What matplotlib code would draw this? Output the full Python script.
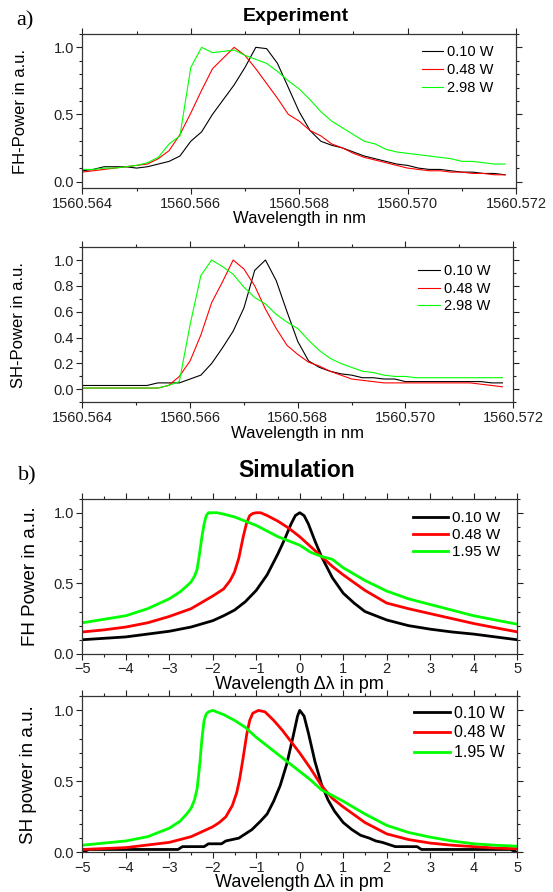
import matplotlib
matplotlib.use("Agg")
import matplotlib.pyplot as plt
from matplotlib.ticker import MultipleLocator

plt.rcParams['font.family'] = ['Liberation Sans', 'DejaVu Sans']

# ---- experiment: wavelength grid in nm (one point every 0.2 pm) ----
wl_exp = [1560.5640, 1560.5642, 1560.5644, 1560.5646, 1560.5648, 1560.5650,
          1560.5652, 1560.5654, 1560.5656, 1560.5658, 1560.5660, 1560.5662,
          1560.5664, 1560.5666, 1560.5668, 1560.5670, 1560.5672, 1560.5674,
          1560.5676, 1560.5678, 1560.5680, 1560.5682, 1560.5684, 1560.5686,
          1560.5688, 1560.5690, 1560.5692, 1560.5694, 1560.5696, 1560.5698,
          1560.5700, 1560.5702, 1560.5704, 1560.5706, 1560.5708, 1560.5710,
          1560.5712, 1560.5714, 1560.5716, 1560.5718]

fh_exp_010 = [0.08, 0.09, 0.11, 0.11, 0.11, 0.10, 0.11, 0.13, 0.15, 0.19,
              0.30, 0.37, 0.50, 0.61, 0.72, 0.85, 1.00, 0.99, 0.88, 0.70,
              0.52, 0.38, 0.30, 0.27, 0.25, 0.22, 0.19, 0.17, 0.15, 0.13,
              0.12, 0.10, 0.09, 0.09, 0.08, 0.07, 0.07, 0.06, 0.06, 0.05]
fh_exp_048 = [0.07, 0.08, 0.09, 0.10, 0.11, 0.12, 0.13, 0.17, 0.23, 0.35,
              0.51, 0.68, 0.84, 0.92, 1.00, 0.94, 0.84, 0.73, 0.62, 0.50,
              0.45, 0.38, 0.34, 0.28, 0.25, 0.21, 0.18, 0.16, 0.14, 0.12,
              0.10, 0.09, 0.08, 0.08, 0.07, 0.07, 0.06, 0.06, 0.05, 0.05]
fh_exp_298 = [0.09, 0.09, 0.10, 0.10, 0.11, 0.12, 0.14, 0.18, 0.28, 0.34,
              0.85, 1.00, 0.96, 0.97, 0.98, 0.94, 0.91, 0.88, 0.82, 0.75,
              0.69, 0.61, 0.52, 0.45, 0.40, 0.35, 0.30, 0.28, 0.24, 0.22,
              0.21, 0.20, 0.19, 0.18, 0.17, 0.15, 0.15, 0.14, 0.13, 0.13]

sh_exp_010 = [0.03, 0.03, 0.03, 0.03, 0.03, 0.03, 0.03, 0.05, 0.05, 0.05,
              0.08, 0.11, 0.20, 0.32, 0.45, 0.63, 0.92, 1.00, 0.84, 0.60,
              0.37, 0.22, 0.17, 0.14, 0.12, 0.11, 0.09, 0.09, 0.08, 0.08,
              0.06, 0.06, 0.06, 0.06, 0.06, 0.06, 0.06, 0.06, 0.05, 0.05]
sh_exp_048 = [0.01, 0.01, 0.01, 0.01, 0.01, 0.01, 0.01, 0.01, 0.03, 0.10,
              0.22, 0.42, 0.67, 0.83, 1.00, 0.93, 0.80, 0.62, 0.47, 0.34,
              0.27, 0.21, 0.18, 0.14, 0.11, 0.08, 0.07, 0.06, 0.05, 0.05,
              0.05, 0.05, 0.05, 0.05, 0.05, 0.05, 0.05, 0.04, 0.03, 0.02]
sh_exp_298 = [0.01, 0.01, 0.01, 0.01, 0.01, 0.01, 0.01, 0.01, 0.03, 0.06,
              0.50, 0.88, 1.00, 0.95, 0.89, 0.79, 0.71, 0.66, 0.58, 0.52,
              0.47, 0.38, 0.30, 0.24, 0.20, 0.17, 0.14, 0.13, 0.11, 0.10,
              0.10, 0.09, 0.09, 0.09, 0.09, 0.09, 0.09, 0.09, 0.09, 0.09]

exp_labels = ['0.10 W', '0.48 W', '2.98 W']

# ---- simulation: detuning in pm ----
fh_sim_010_x = [-5, -4.5, -4, -3.5, -3, -2.5, -2, -1.75, -1.5, -1.25, -1,
                -0.75, -0.5, -0.35, -0.2, -0.1, 0, 0.1, 0.2, 0.35, 0.5, 0.75,
                1, 1.25, 1.5, 2, 2.5, 3, 3.5, 4, 4.5, 5]
fh_sim_010_y = [0.10, 0.11, 0.12, 0.14, 0.16, 0.19, 0.235, 0.27, 0.31, 0.37,
                0.45, 0.56, 0.71, 0.81, 0.92, 0.98, 1.00, 0.98, 0.92, 0.80,
                0.69, 0.54, 0.43, 0.36, 0.30, 0.24, 0.20, 0.175, 0.155, 0.14,
                0.12, 0.10]
fh_sim_048_x = [-5, -4.5, -4, -3.5, -3, -2.5, -2, -1.75, -1.6, -1.5, -1.4,
                -1.3, -1.22, -1.15, -1.08, -1.0, -0.9, -0.75, -0.5, -0.25, 0,
                0.25, 0.5, 0.75, 1, 1.5, 2, 2.5, 3, 3.5, 4, 4.5, 5]
fh_sim_048_y = [0.155, 0.17, 0.19, 0.22, 0.265, 0.32, 0.41, 0.46, 0.52, 0.58,
                0.68, 0.83, 0.93, 0.98, 0.995, 1.00, 1.00, 0.98, 0.94, 0.89,
                0.83, 0.76, 0.69, 0.62, 0.56, 0.45, 0.36, 0.32, 0.285, 0.25,
                0.215, 0.185, 0.156]
fh_sim_195_x = [-5, -4.5, -4, -3.5, -3, -2.75, -2.6, -2.5, -2.42, -2.36, -2.3,
                -2.25, -2.2, -2.15, -2.1, -1.9, -1.75, -1.5, -1.25, -1, -0.75,
                -0.5, -0.25, 0, 0.25, 0.5, 0.75, 1, 1.5, 2, 2.5, 3, 3.5, 4,
                4.5, 5]
fh_sim_195_y = [0.22, 0.245, 0.27, 0.32, 0.39, 0.44, 0.48, 0.51, 0.55, 0.60,
                0.72, 0.83, 0.92, 0.98, 1.00, 1.00, 0.99, 0.97, 0.94, 0.91,
                0.87, 0.83, 0.80, 0.77, 0.72, 0.69, 0.67, 0.61, 0.52, 0.445,
                0.39, 0.35, 0.31, 0.27, 0.24, 0.21]

sh_sim_010_x = [-5.0, -4.85, -2.8, -2.7, -2.2, -2.1, -1.8, -1.7, -1.55, -1.4,
                -1.25, -1.1, -1.0, -0.9, -0.75, -0.6, -0.45, -0.3, -0.15, -0.05,
                0.0, 0.1, 0.2, 0.35, 0.5, 0.65, 0.8, 1.0, 1.2, 1.4, 1.6, 1.75,
                1.9, 2.0, 2.2, 2.7, 2.8, 4.85, 5.0]
sh_sim_010_y = [0.0, 0.02, 0.02, 0.04, 0.04, 0.06, 0.06, 0.08, 0.09, 0.10,
                0.13, 0.16, 0.19, 0.22, 0.27, 0.36, 0.47, 0.62, 0.82, 0.96,
                1.00, 0.96, 0.84, 0.64, 0.48, 0.37, 0.29, 0.21, 0.16, 0.12,
                0.10, 0.08, 0.07, 0.06, 0.04, 0.04, 0.02, 0.02, 0.0]
sh_sim_048_x = [-5, -4, -3, -2.5, -2, -1.85, -1.7, -1.55, -1.45, -1.38, -1.3,
                -1.22, -1.15, -1.08, -0.95, -0.8, -0.6, -0.4, -0.2, 0, 0.25,
                0.5, 0.75, 1, 1.5, 2, 2.5, 3, 3.5, 4, 4.5, 5]
sh_sim_048_y = [0.02, 0.033, 0.07, 0.11, 0.18, 0.21, 0.25, 0.33, 0.42, 0.52,
                0.67, 0.83, 0.93, 0.98, 1.00, 0.99, 0.93, 0.86, 0.78, 0.70,
                0.59, 0.47, 0.38, 0.32, 0.21, 0.13, 0.09, 0.065, 0.05, 0.04,
                0.03, 0.025]
sh_sim_195_x = [-5, -4.5, -4, -3.5, -3, -2.75, -2.6, -2.5, -2.42, -2.36, -2.3,
                -2.25, -2.2, -2.15, -2.1, -2.0, -1.75, -1.5, -1.25, -1, -0.75,
                -0.5, -0.25, 0, 0.25, 0.5, 0.75, 1, 1.5, 2, 2.5, 3, 3.5, 4,
                4.5, 5]
sh_sim_195_y = [0.05, 0.065, 0.08, 0.11, 0.17, 0.22, 0.27, 0.31, 0.37, 0.45,
                0.62, 0.80, 0.93, 0.975, 0.99, 1.00, 0.97, 0.93, 0.88, 0.81,
                0.75, 0.69, 0.63, 0.57, 0.51, 0.44, 0.40, 0.36, 0.27, 0.19,
                0.14, 0.107, 0.08, 0.06, 0.05, 0.043]

sim_labels = ['0.10 W', '0.48 W', '1.95 W']
colors = ['black', '#ff0000', '#00ff00']


def style_axes(ax, xmaj, xmin, ymaj, ymin, tsize):
    ax.xaxis.set_major_locator(MultipleLocator(xmaj))
    ax.xaxis.set_minor_locator(MultipleLocator(xmin))
    ax.yaxis.set_major_locator(MultipleLocator(ymaj))
    ax.yaxis.set_minor_locator(MultipleLocator(ymin))
    ax.tick_params(which='both', direction='out', top=True, right=True,
                   labelsize=tsize, width=0.8, pad=2, colors='#222222')
    ax.tick_params(which='major', length=4)
    ax.tick_params(which='minor', length=2.3)
    for s in ax.spines.values():
        s.set_linewidth(0.9)
        s.set_color('#333333')


def legend(ax, x, y, size, hl, spacing):
    ax.legend(loc='upper left', bbox_to_anchor=(x, y), frameon=False,
              fontsize=size, borderpad=0, borderaxespad=0, handlelength=hl,
              handletextpad=0.25, labelspacing=spacing)


fig = plt.figure(figsize=(5.53, 8.92), dpi=100)

# panel positions (left, bottom, width, height) in figure fractions
ax1 = fig.add_axes([0.149, 0.789, 0.784, 0.173])
ax2 = fig.add_axes([0.149, 0.549, 0.779, 0.174])
ax3 = fig.add_axes([0.149, 0.267, 0.786, 0.174])
ax4 = fig.add_axes([0.149, 0.0445, 0.786, 0.175])

for ys, c, lab in zip([fh_exp_010, fh_exp_048, fh_exp_298], colors, exp_labels):
    ax1.plot(wl_exp, ys, color=c, lw=0.8, label=lab)
ax1.set_xlim(1560.564, 1560.572)
ax1.set_ylim(-0.05, 1.1)
style_axes(ax1, 0.002, 0.001, 0.5, 0.1, 10.5)
ax1.xaxis.set_major_formatter(plt.FormatStrFormatter('%.3f'))
ax1.set_xlabel('Wavelength in nm', fontsize=12)
ax1.set_ylabel('FH-Power in a.u.', fontsize=12)
ax1.xaxis.set_label_coords(0.5, -0.15)
ax1.yaxis.set_label_coords(-0.125, 0.5)
legend(ax1, 0.783, 0.925, 10.5, 1.45, 0.25)

for ys, c, lab in zip([sh_exp_010, sh_exp_048, sh_exp_298], colors, exp_labels):
    ax2.plot(wl_exp, ys, color=c, lw=0.8, label=lab)
ax2.set_xlim(1560.564, 1560.572)
ax2.set_ylim(-0.1, 1.1)
style_axes(ax2, 0.002, 0.001, 0.2, 0.1, 10.5)
ax2.xaxis.set_major_formatter(plt.FormatStrFormatter('%.3f'))
ax2.set_xlabel('Wavelength in nm', fontsize=12)
ax2.set_ylabel('SH-Power in a.u.', fontsize=12)
ax2.xaxis.set_label_coords(0.5, -0.15)
ax2.yaxis.set_label_coords(-0.13, 0.5)
legend(ax2, 0.779, 0.89, 10.5, 1.5, 0.25)

for xs, ys, c, lab in zip([fh_sim_010_x, fh_sim_048_x, fh_sim_195_x],
                          [fh_sim_010_y, fh_sim_048_y, fh_sim_195_y],
                          colors, sim_labels):
    ax3.plot(xs, ys, color=c, lw=2.0, label=lab)
ax3.set_xlim(-5, 5)
ax3.set_ylim(0, 1.1)
style_axes(ax3, 1, 0.5, 0.5, 0.1, 10.5)
ax3.set_xlabel('Wavelength \u0394\u03bb in pm', fontsize=13)
ax3.set_ylabel('FH Power in a.u.', fontsize=13.5)
ax3.xaxis.set_label_coords(0.5, -0.14)
ax3.yaxis.set_label_coords(-0.099, 0.5)
legend(ax3, 0.761, 0.92, 11, 2.3, 0.2)

for xs, ys, c, lab in zip([sh_sim_010_x, sh_sim_048_x, sh_sim_195_x],
                          [sh_sim_010_y, sh_sim_048_y, sh_sim_195_y],
                          colors, sim_labels):
    ax4.plot(xs, ys, color=c, lw=2.0, label=lab)
ax4.set_xlim(-5, 5)
ax4.set_ylim(0, 1.1)
style_axes(ax4, 1, 0.5, 0.5, 0.1, 10.5)
ax4.set_xlabel('Wavelength \u0394\u03bb in pm', fontsize=13)
ax4.set_ylabel('SH power in a.u.', fontsize=13.5)
ax4.xaxis.set_label_coords(0.5, -0.14)
ax4.yaxis.set_label_coords(-0.105, 0.5)
legend(ax4, 0.764, 0.94, 11.5, 2.2, 0.3)

fig.text(0.535, 0.982, 'Experiment', fontsize=14, fontweight='bold',
         ha='center', va='center')
fig.text(0.537, 0.472, 'Simulation', fontsize=16.5, fontweight='bold',
         ha='center', va='center')
fig.text(0.03, 0.977, 'a)', fontsize=16, family='Liberation Serif',
         ha='left', va='center')
fig.text(0.032, 0.466, 'b)', fontsize=16, family='Liberation Serif',
         ha='left', va='center')

fig.savefig('out.png', dpi=100)
